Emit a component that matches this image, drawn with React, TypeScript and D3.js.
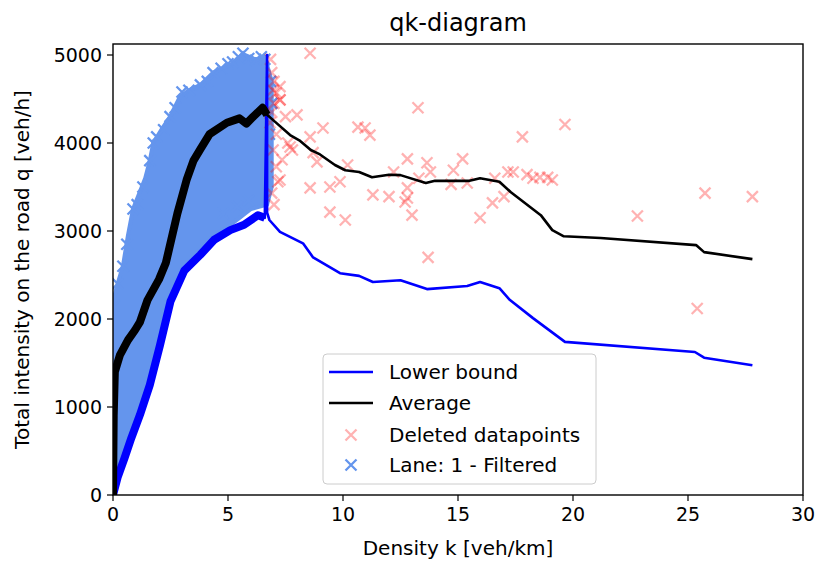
import React from "react";
import * as d3 from "d3";

const W = 818, H = 563;
const M = { left: 113, right: 803, top: 44, bottom: 495 };

const xTicks = [0, 5, 10, 15, 20, 25, 30];
const yTicks = [0, 1000, 2000, 3000, 4000, 5000];

const titleText = "qk-diagram";
const xLabel = "Density k [veh/km]";
const yLabel = "Total intensity on the road q [veh/h]";
const legendLabels = ["Lower bound", "Average", "Deleted datapoints", "Lane: 1 - Filtered"];

// Lower bound series (k, q)
const lowerK = [0, 0.2, 0.5, 0.8, 1.17, 1.6, 2.04, 2.5, 3.1, 3.8, 4.4, 5.1, 5.7, 6.3, 6.6, 6.7, 6.7, 6.8, 7.26, 8.26, 8.7, 9.87, 10.7, 11.3, 12.5, 13.65, 15.4, 15.96, 16.8, 17.26, 18.26, 19.65, 25.3, 25.7, 27.8];
const lowerQ = [0, 200, 420, 650, 910, 1250, 1700, 2200, 2550, 2730, 2900, 3010, 3070, 3180, 3150, 5000, 3210, 3125, 2990, 2860, 2700, 2520, 2490, 2420, 2440, 2340, 2375, 2420, 2350, 2215, 2010, 1740, 1625, 1560, 1475];

// Average series (k, q)
const avgK = [0, 0.03, 0.08, 0.3, 0.65, 0.96, 1.17, 1.5, 2.0, 2.3, 2.8, 3.2, 3.5, 3.8, 4.2, 4.95, 5.5, 5.8, 6.1, 6.5, 6.7, 7.05, 7.7, 8.1, 8.6, 9.0, 9.65, 10.1, 10.7, 11.26, 12.0, 12.5, 13.6, 14.0, 15.5, 15.96, 16.8, 17.3, 18.6, 19.1, 19.6, 21.2, 25.35, 25.7, 27.8];
const avgQ = [0, 900, 1400, 1590, 1760, 1875, 1965, 2215, 2450, 2640, 3200, 3580, 3800, 3930, 4100, 4230, 4280, 4220, 4300, 4400, 4320, 4240, 4090, 4030, 3920, 3870, 3750, 3690, 3670, 3610, 3640, 3635, 3545, 3570, 3570, 3600, 3560, 3440, 3180, 3010, 2940, 2920, 2840, 2760, 2680];
const denseLimitK = 6.72;

// Envelope of the dense filtered cloud (upper edge then lower edge)
const cloudUpperK = [0, 0.2, 0.43, 0.65, 0.87, 1.1, 1.4, 1.6, 1.75, 2.1, 2.48, 2.9, 3.3, 3.8, 4.35, 5.2, 5.65, 6.2, 6.6, 6.9, 6.9];
const cloudUpperQ = [2200, 2400, 2600, 2950, 3250, 3400, 3600, 3800, 4000, 4150, 4300, 4520, 4600, 4660, 4800, 4900, 5010, 4950, 4980, 4700, 3500];
const cloudLowerK = [6.7, 6.0, 5.5, 5.0, 4.4, 3.8, 3.1, 2.5, 2.04, 1.6, 1.17, 0.5, 0.05, 0];
const cloudLowerQ = [3300, 3250, 3150, 3050, 2950, 2800, 2620, 2250, 1760, 1310, 960, 450, 0, 0];

// Filtered points visible at the edge of the cloud
const laneK = [0.05, 0.2, 0.43, 0.6, 0.87, 1.05, 1.3, 1.6, 1.75, 1.9, 2.2, 2.48, 2.7, 3.0, 3.3, 3.8, 4.1, 4.35, 4.7, 5.0, 5.2, 5.45, 5.65, 5.9, 6.2, 6.45, 6.6, 6.85, 6.9, 6.8, 4.8, 5.4, 5.9];
const laneQ = [2150, 2400, 2600, 2850, 3250, 3300, 3500, 3800, 4000, 4070, 4150, 4300, 4400, 4580, 4600, 4660, 4700, 4800, 4850, 4900, 4920, 4980, 5020, 4960, 4940, 4980, 4950, 4700, 4450, 4100, 3200, 3280, 3350];

// Deleted datapoints
const delK = [8.57, 13.26, 17.8, 8.0, 10.65, 10.96, 11.17, 9.13, 8.57, 7.7, 8.7, 8.87, 10.2, 12.8, 13.65, 15.2, 14.8, 13.8, 12.2, 17.17, 17.4, 15.4, 12.8, 11.3, 12.0, 12.8, 8.57, 9.43, 9.87, 7.17, 9.43, 10.1, 12.7, 13.0, 13.7, 15.96, 16.5, 17.0, 18.0, 19.65, 18.26, 18.56, 18.9, 19.1, 22.8, 25.74, 27.8, 25.4, 7.8, 7.35, 7.26, 6.85, 6.9, 7.0, 7.1, 7.26, 7.0, 7.26, 6.9, 6.83, 7.1, 6.96, 7.1, 7.26, 6.9, 7.0, 7.5, 7.6, 6.95, 13.3, 14.7, 16.6];
const delQ = [5020, 4400, 4070, 4320, 4180, 4170, 4090, 4170, 4070, 3955, 3890, 3785, 3750, 3820, 3775, 3820, 3690, 3670, 3670, 3670, 3670, 3545, 3490, 3410, 3390, 3375, 3490, 3500, 3560, 3560, 3215, 3125, 3330, 3180, 2700, 3150, 3320, 3390, 3640, 4210, 3600, 3610, 3610, 3580, 3170, 3430, 3390, 2120, 3920, 3810, 4490, 4950, 4800, 4700, 4570, 4640, 4450, 4490, 4350, 4230, 4100, 3920, 3730, 3580, 3430, 3300, 4300, 4000, 4600, 3600, 3530, 3600];

const zip = (a: number[], b: number[]): [number, number][] => a.map((v, i) => [v, b[i]]);

export default function App() {
  const x = d3.scaleLinear().domain([0, 30]).range([M.left, M.right]);
  const y = d3.scaleLinear().domain([0, 5125]).range([M.bottom, M.top]);
  const line = d3.line<[number, number]>().x(d => x(d[0])).y(d => y(d[1]));

  const lowerPts = zip(lowerK, lowerQ);
  const avgPts = zip(avgK, avgQ);
  const lowerDense = lowerPts.filter(d => d[0] <= 6.6);
  const avgDense = avgPts.filter(d => d[0] <= denseLimitK);
  const cloud = zip(cloudUpperK, cloudUpperQ).concat(zip(cloudLowerK, cloudLowerQ));
  const cloudPath = line(cloud) + "Z";

  const cross = (r: number) => `M${-r},${-r}L${r},${r}M${-r},${r}L${r},${-r}`;
  const font = "DejaVu Sans, sans-serif";
  const cx = (M.left + M.right) / 2;
  const cy = (M.top + M.bottom) / 2;
  const R = 5.5;
  const TFS = 19;
  const FS = 20;

  const legX = 323, legY = 354, legW = 273, legH = 130;
  const rowY = [372, 403, 435, 465];

  return (
    <svg width={W} height={H} style={{ position: "absolute", left: 0, top: 0, background: "#fff" }}>
      <defs>
        <clipPath id="plotclip">
          <rect x={M.left} y={M.top} width={M.right - M.left} height={M.bottom - M.top} />
        </clipPath>
      </defs>
      <g clipPath="url(#plotclip)">
        <path d={cloudPath} fill="#6495ED" stroke="#6495ED" strokeWidth={4} strokeLinejoin="round" />
        {laneK.map((k, i) => (
          <path key={"l" + i} transform={`translate(${x(k)},${y(laneQ[i])})`} d={cross(R)} stroke="#6495ED" strokeWidth={2.3} fill="none" />
        ))}
        {delK.map((k, i) => (
          <path key={"d" + i} transform={`translate(${x(k)},${y(delQ[i])})`} d={cross(R)} stroke="red" strokeOpacity={0.3} strokeWidth={2.3} fill="none" />
        ))}
        <path d={line(lowerDense) || ""} fill="none" stroke="#0000ff" strokeWidth={8} strokeLinejoin="round" />
        <path d={line(lowerPts) || ""} fill="none" stroke="#0000ff" strokeWidth={2.6} strokeLinejoin="round" />
        <path d={line(avgDense) || ""} fill="none" stroke="#000" strokeWidth={8} strokeLinejoin="round" />
        <path d={line(avgPts) || ""} fill="none" stroke="#000" strokeWidth={2.6} strokeLinejoin="round" />
      </g>
      <rect x={M.left} y={M.top} width={M.right - M.left} height={M.bottom - M.top} fill="none" stroke="#000" strokeWidth={1.4} />
      {xTicks.map(t => (
        <g key={"xt" + t}>
          <line x1={x(t)} x2={x(t)} y1={M.bottom} y2={M.bottom + 6} stroke="#000" strokeWidth={1.2} />
          <text x={x(t)} y={M.bottom + 26} fontSize={TFS} fontFamily={font} textAnchor="middle" fill="#000">{t}</text>
        </g>
      ))}
      {yTicks.map(t => (
        <g key={"yt" + t}>
          <line x1={M.left - 6} x2={M.left} y1={y(t)} y2={y(t)} stroke="#000" strokeWidth={1.2} />
          <text x={M.left - 11} y={y(t)} dy="0.35em" fontSize={TFS} fontFamily={font} textAnchor="end" fill="#000">{t}</text>
        </g>
      ))}
      <text x={cx} y={31} fontSize={24} fontFamily={font} textAnchor="middle" fill="#000">{titleText}</text>
      <text x={cx} y={555} fontSize={FS} fontFamily={font} textAnchor="middle" fill="#000">{xLabel}</text>
      <text transform={`translate(29,${cy}) rotate(-90)`} fontSize={FS} fontFamily={font} textAnchor="middle" fill="#000">{yLabel}</text>
      <g>
        <rect x={legX} y={legY} width={legW} height={legH} rx={4} fill="#fff" fillOpacity={0.8} stroke="#cccccc" strokeWidth={1} />
        <line x1={329} x2={373} y1={rowY[0]} y2={rowY[0]} stroke="#0000ff" strokeWidth={2.6} />
        <line x1={329} x2={373} y1={rowY[1]} y2={rowY[1]} stroke="#000" strokeWidth={2.6} />
        <path transform={`translate(351,${rowY[2]})`} d={cross(R)} stroke="red" strokeOpacity={0.3} strokeWidth={2.3} fill="none" />
        <path transform={`translate(351,${rowY[3]})`} d={cross(R)} stroke="#6495ED" strokeWidth={2.3} fill="none" />
        {legendLabels.map((s, i) => (
          <text key={s} x={389} y={rowY[i]} dy="0.35em" fontSize={FS} fontFamily={font} fill="#000">{s}</text>
        ))}
      </g>
    </svg>
  );
}
